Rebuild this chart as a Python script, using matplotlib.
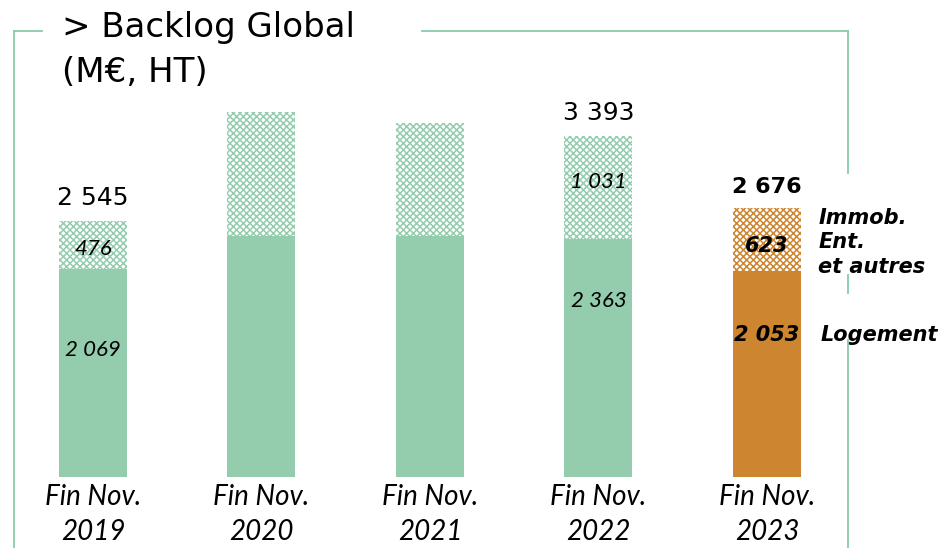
import matplotlib.pyplot as plt
from matplotlib.lines import Line2D

# Backlog global (M€, HT), end of November
years = ["2019", "2020", "2021", "2022", "2023"]
logement = [2069, 2395, 2393, 2363, 2053]
immo_ent = [476, 1235, 1127, 1031, 623]
totals = [2545, None, None, 3393, 2676]
show_segments = [True, False, False, True, True]

green = "#94cdae"
orange = "#cd8530"
frame = "#86cba9"

plt.rcParams['font.family'] = ['Lato', 'DejaVu Sans']
plt.rcParams['hatch.linewidth'] = 1.1

W, H = 943, 548
fig = plt.figure(figsize=(W / 100, H / 100), dpi=100)
base_px = 477
ax = fig.add_axes([0, (H - base_px) / H, 1, base_px / H])

step = 168.5
x0 = 93 / step
ax.set_xlim(-x0, W / step - x0)
ax.set_ylim(0, base_px * 9.945)

x = list(range(len(years)))
colors = [green] * 4 + [orange]
width = 68 / step
ax.bar(x, logement, width=width, color=colors, linewidth=0)
ax.bar(x, immo_ent, width=width, bottom=logement, facecolor="white",
       edgecolor=colors, hatch="xxxxx", linewidth=0)


def fmt(v):
    return f"{v:,}".replace(",", " ")


for i in x:
    last = i == len(years) - 1
    if totals[i] is not None:
        ax.annotate(fmt(totals[i]), (i, totals[i]),
                    xytext=(0, 8), textcoords="offset points", ha="center",
                    va="bottom", fontsize=16 if last else 18,
                    fontweight="bold" if last else "normal",
                    family=['DejaVu Sans'])
    if show_segments[i]:
        if last:
            seg_style = dict(fontsize=15, style="italic", fontweight="bold",
                             family=['DejaVu Sans'])
        else:
            seg_style = dict(fontsize=16, style="italic")
        lo_frac = {0: 0.61, 3: 0.74, 4: 0.69}[i]
        ax.text(i, logement[i] * lo_frac, fmt(logement[i]),
                ha="center", va="center", **seg_style)
        up_frac = {0: 0.42, 3: 0.55, 4: 0.39}[i]
        ax.text(i, logement[i] + immo_ent[i] * up_frac, fmt(immo_ent[i]),
                ha="center", va="center", **seg_style)

ax.set_xticks(x)
ax.set_xticklabels([f"Fin Nov.\n{y}" for y in years], fontsize=20,
                   style="italic", linespacing=1.42)
ax.tick_params(axis="x", length=0, pad=5)
ax.set_yticks([])
for s in ax.spines.values():
    s.set_visible(False)
ax.patch.set_alpha(0)

# category labels on the right of the last bar
side = dict(ha="left", va="center", fontsize=15, style="italic",
            fontweight="bold", family=['DejaVu Sans'])
ax.text(4 + 0.305, logement[4] + immo_ent[4] * 0.45, "Immob.\nEnt.\net autres",
        linespacing=1.3, **side)
ax.text(4 + 0.315, logement[4] * 0.69, "Logement", **side)


# green frame around the chart, broken for title and right labels
def seg(x1, y1, x2, y2):
    fig.add_artist(Line2D([x1 / W, x2 / W], [1 - y1 / H, 1 - y2 / H],
                          color=frame, lw=1.3, transform=fig.transFigure))


seg(13.5, 31, 42, 31)
seg(422, 31, 847.5, 31)
seg(13.5, 31, 13.5, H)
seg(847.5, 31, 847.5, 173)
seg(847.5, 275, 847.5, 293)
seg(847.5, 340, 847.5, H)

title = dict(fontsize=24.5, va="center", ha="left", family=['DejaVu Sans'])
fig.text(62 / W, 1 - 27 / H, "> Backlog Global", **title)
fig.text(62 / W, 1 - 73 / H, "(M€, HT)", **title)

fig.savefig("out.png", dpi=100)
